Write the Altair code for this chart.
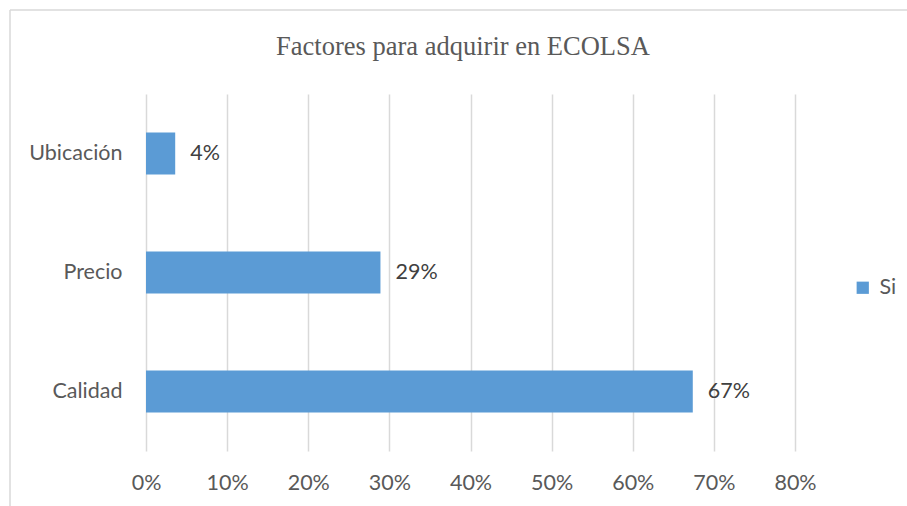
import altair as alt
import pandas as pd

titulo = "Factores para adquirir en ECOLSA"
categorias = ["Ubicación", "Precio", "Calidad"]
valores = [0.036, 0.289, 0.674]
etiquetas = ["4%", "29%", "67%"]
serie = ["Si", "Si", "Si"]
ticks_x = [0, 0.1, 0.2, 0.3, 0.4, 0.5, 0.6, 0.7, 0.8]

df = pd.DataFrame({"cat": categorias, "val": valores, "lab": etiquetas, "serie": serie})

W, H = 649, 357
L, T = 146, 94
FS = 21.5

base = alt.Chart(df).encode(
    y=alt.Y("cat:N", sort=categorias, title=None,
            scale=alt.Scale(paddingInner=0.65, paddingOuter=0.325),
            axis=alt.Axis(domain=False, ticks=False, labelPadding=24,
                          labelFont="Lato", labelFontSize=FS, labelColor="#595959"))
)

bars = base.mark_bar(size=42).encode(
    x=alt.X("val:Q", title=None,
            scale=alt.Scale(domain=[0, 0.8], nice=False),
            axis=alt.Axis(format=".0%", values=ticks_x,
                          domain=False, ticks=False, labelPadding=21, labelFlush=False,
                          labelFont="Lato", labelFontSize=FS, labelColor="#595959",
                          gridColor="#d9d9d9", gridWidth=1.5)),
    color=alt.Color("serie:N", title=None,
                    scale=alt.Scale(range=["#5B9BD5"]),
                    legend=alt.Legend(orient="none", legendX=706, legendY=183,
                                      symbolType="square", symbolSize=150,
                                      symbolStrokeWidth=0, labelFont="Lato",
                                      labelFontSize=FS, labelColor="#595959",
                                      labelOffset=6))
)

texts = base.mark_text(align="left", baseline="middle", dx=15, font="Lato",
                       fontSize=FS, color="#404040").encode(
    x=alt.X("val:Q"),
    text="lab:N"
)

title_df = pd.DataFrame({"t": [titulo]})
title_mark = alt.Chart(title_df).mark_text(
    font="Liberation Serif", fontSize=26.5, color="#595959",
    align="center", baseline="alphabetic").encode(
    x=alt.value(463 - L), y=alt.value(55 - T), text="t:N")

border_top = alt.Chart(title_df).mark_rule(color="#d9d9d9", strokeWidth=1.5).encode(
    x=alt.value(10 - L), x2=alt.value(907 - L), y=alt.value(10 - T))
border_left = alt.Chart(title_df).mark_rule(color="#d9d9d9", strokeWidth=1.5).encode(
    x=alt.value(10 - L), y=alt.value(10 - T), y2=alt.value(506 - T))

chart = alt.layer(bars, texts, title_mark, border_top, border_left).properties(
    width=W, height=H,
    background="white",
    autosize=alt.AutoSizeParams(type="none"),
    padding={"left": L, "top": T, "right": 907 - L - W, "bottom": 506 - T - H},
).configure_view(strokeWidth=0, stroke="transparent")

chart.save("out.html", embed_options={"renderer": "svg", "actions": False})
